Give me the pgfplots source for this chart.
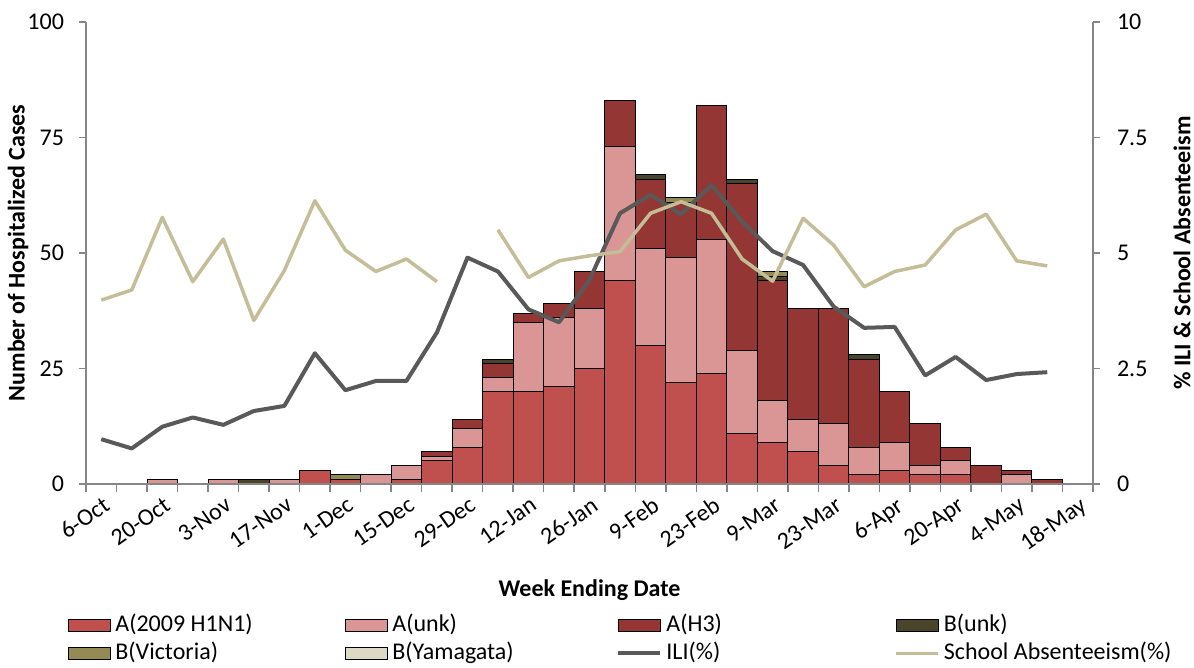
\documentclass[border=0pt]{standalone}
\usepackage{pgfplots}
\usepackage{pgfplotstable}
\pgfplotsset{compat=1.18}
\usepackage{fontspec}
\setmainfont{Carlito}
\definecolor{hone}{HTML}{C0504D}
\definecolor{aunk}{HTML}{D99694}
\definecolor{hthree}{HTML}{943634}
\definecolor{bunk}{HTML}{4A452A}
\definecolor{bvic}{HTML}{948A54}
\definecolor{byam}{HTML}{DDD9C4}
\definecolor{ili}{HTML}{595959}
\definecolor{school}{HTML}{C4BD97}
\definecolor{axgray}{HTML}{868686}

\pgfplotstableread{
w h1n1 unk h3 bunk bvic byam
0 0 0 0 0 0 0
1 0 0 0 0 0 0
2 0 1 0 0 0 0
3 0 0 0 0 0 0
4 0 1 0 0 0 0
5 0 0 0 1 0 0
6 0 1 0 0 0 0
7 3 0 0 0 0 0
8 1 0 0 0 1 0
9 0 2 0 0 0 0
10 1 3 0 0 0 0
11 5 1 1 0 0 0
12 8 4 2 0 0 0
13 20 3 3 1 0 0
14 20 15 2 0 0 0
15 21 15 3 0 0 0
16 25 13 8 0 0 0
17 44 29 10 0 0 0
18 30 21 15 1 0 0
19 22 27 12 0 1 0
20 24 29 29 0 0 0
21 11 18 36 1 0 0
22 9 9 26 1 1 0
23 7 7 24 0 0 0
24 4 9 25 0 0 0
25 2 6 19 1 0 0
26 3 6 11 0 0 0
27 2 2 9 0 0 0
28 2 3 3 0 0 0
29 0 0 4 0 0 0
30 0 2 1 0 0 0
31 0 0 1 0 0 0
32 0 0 0 0 0 0
}\flu

\pgfplotstableread{
w ili school
0 0.97 3.98
1 0.77 4.20
2 1.24 5.77
3 1.44 4.38
4 1.28 5.30
5 1.58 3.54
6 1.69 4.62
7 2.83 6.13
8 2.03 5.06
9 2.23 4.60
10 2.23 4.87
11 3.28 4.38
12 4.90 nan
13 4.60 5.50
14 3.78 4.47
15 3.50 4.83
16 4.42 4.94
17 5.86 5.03
18 6.26 5.86
19 5.84 6.11
20 6.47 5.86
21 5.68 4.87
22 5.04 4.39
23 4.74 5.75
24 3.84 5.17
25 3.38 4.27
26 3.40 4.60
27 2.35 4.74
28 2.75 5.50
29 2.25 5.84
30 2.38 4.83
31 2.42 4.72
}\pct

\begin{document}
\begin{tikzpicture}
\path[use as bounding box] (-43pt,-92pt) rectangle (554pt,242pt);
\begin{axis}[
  at={(0pt,0pt)}, anchor=south west,
  scale only axis, width=503.5pt, height=231pt,
  xmin=-0.5, xmax=32.5, ymin=0, ymax=100,
  ybar stacked, bar width=1,
  axis on top,
  axis x line*=bottom, axis y line*=left,
  axis line style={draw=axgray, line width=0.75pt},
  every tick/.style={draw=axgray, line width=0.75pt},
  tick align=outside,
  major tick length=3.5pt,
  minor tick length=4pt,
  ytick={0,25,50,75,100},
  xtick={0,2,...,32},
  xticklabels={6-Oct,20-Oct,3-Nov,17-Nov,1-Dec,15-Dec,29-Dec,12-Jan,26-Jan,9-Feb,23-Feb,9-Mar,23-Mar,6-Apr,20-Apr,4-May,18-May},
  minor xtick={-0.5,0.5,...,32.5},
  major x tick style={draw=none},
  /pgf/number format/assume math mode=true,
  tick label style={font=\fontsize{12}{14}\selectfont},
  xticklabel style={rotate=35, anchor=north east, inner sep=1pt, yshift=-1pt},
  yticklabel style={xshift=-4pt},
  xlabel={\textbf{Week Ending Date}},
  ylabel={\textbf{Number of Hospitalized Cases}},
  label style={font=\fontsize{12}{14}\selectfont},
  xlabel style={at={(axis description cs:0.5,0)}, anchor=center, yshift=-53pt},
  ylabel style={at={(axis description cs:-0.0675,0.5)}, anchor=center},
  every axis plot/.append style={draw=black, line width=0.5pt},
]
\addplot[fill=hone] table[x=w,y=h1n1]{\flu};
\addplot[fill=aunk] table[x=w,y=unk]{\flu};
\addplot[fill=hthree] table[x=w,y=h3]{\flu};
\addplot[fill=bunk] table[x=w,y=bunk]{\flu};
\addplot[fill=bvic] table[x=w,y=bvic]{\flu};
\addplot[fill=byam] table[x=w,y=byam]{\flu};
\end{axis}
\begin{axis}[
  at={(0pt,0pt)}, anchor=south west,
  scale only axis, width=503.5pt, height=231pt,
  xmin=-0.5, xmax=32.5, ymin=0, ymax=10,
  axis x line=none, axis y line*=right,
  axis line style={draw=axgray, line width=0.75pt},
  every tick/.style={draw=axgray, line width=0.75pt},
  tick align=outside,
  major tick length=3.5pt,
  ytick={0,2.5,5,7.5,10},
  /pgf/number format/assume math mode=true,
  tick label style={font=\fontsize{12}{14}\selectfont},
  yticklabel style={xshift=5pt},
  ylabel={\textbf{\% ILI \& School Absenteeism}},
  label style={font=\fontsize{12}{14}\selectfont},
  ylabel style={at={(axis description cs:1.0884,0.5)}, anchor=center},
  unbounded coords=jump,
  legend columns=4,
  legend style={at={(axis description cs:0,0)}, anchor=north west, xshift=-9pt, yshift=-64pt,
    draw=none, inner sep=0pt, font=\fontsize{12}{14}\selectfont,
    /tikz/column sep=0pt, /tikz/row sep=1pt,
    nodes={text height=8.5pt, text depth=2.5pt, inner ysep=1pt, inner xsep=2pt}},
  legend cell align=left,
]
\addlegendimage{legend image code/.code={\draw[fill=hone,draw=black,line width=0.5pt] (0pt,-3pt) rectangle (21pt,3pt);}}
\addlegendentry{\makebox[113pt][l]{A(2009 H1N1)}}
\addlegendimage{legend image code/.code={\draw[fill=aunk,draw=black,line width=0.5pt] (0pt,-3pt) rectangle (21pt,3pt);}}
\addlegendentry{\makebox[110pt][l]{A(unk)}}
\addlegendimage{legend image code/.code={\draw[fill=hthree,draw=black,line width=0.5pt] (0pt,-3pt) rectangle (21pt,3pt);}}
\addlegendentry{\makebox[112pt][l]{A(H3)}}
\addlegendimage{legend image code/.code={\draw[fill=bunk,draw=black,line width=0.5pt] (0pt,-3pt) rectangle (21pt,3pt);}}
\addlegendentry{B(unk)}
\addlegendimage{legend image code/.code={\draw[fill=bvic,draw=black,line width=0.5pt] (0pt,-3pt) rectangle (21pt,3pt);}}
\addlegendentry{\makebox[113pt][l]{B(Victoria)}}
\addlegendimage{legend image code/.code={\draw[fill=byam,draw=black,line width=0.5pt] (0pt,-3pt) rectangle (21pt,3pt);}}
\addlegendentry{\makebox[110pt][l]{B(Yamagata)}}
\addplot[color=ili, line width=2pt, line join=round, legend image code/.code={\draw[ili,line width=2pt] (0pt,0pt) -- (21pt,0pt);}] table[x=w,y=ili]{\pct};
\addlegendentry{\makebox[112pt][l]{ILI(\%)}}
\addplot[color=school, line width=1.75pt, line join=round, legend image code/.code={\draw[school,line width=1.75pt] (0pt,0pt) -- (21pt,0pt);}] table[x=w,y=school]{\pct};
\addlegendentry{School Absenteeism(\%)}
\end{axis}
\end{tikzpicture}
\end{document}
